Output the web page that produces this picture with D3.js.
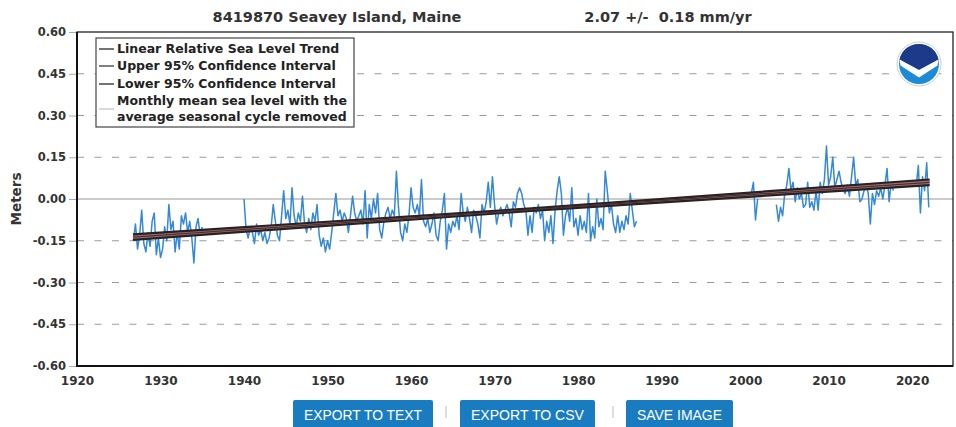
<!DOCTYPE html>
<html>
<head>
<meta charset="utf-8">
<script src="https://cdn.jsdelivr.net/npm/d3@7/dist/d3.min.js"></script>
<style>
  body { margin: 0; background: #fff; }
  svg text { font-family: "DejaVu Sans", sans-serif; }
</style>
</head>
<body>
<svg id="chart"></svg>
<script>
// chart text
const stationTitle = "8419870 Seavey Island, Maine";
const trendTitle = "2.07 +/-  0.18 mm/yr";
const yTicks = [-0.60, -0.45, -0.30, -0.15, 0.00, 0.15, 0.30, 0.45, 0.60];
const xTicks = [1920, 1930, 1940, 1950, 1960, 1970, 1980, 1990, 2000, 2010, 2020];
const legendLabels = [
  ["Linear Relative Sea Level Trend"],
  ["Upper 95% Confidence Interval"],
  ["Lower 95% Confidence Interval"],
  ["Monthly mean sea level with the", "average seasonal cycle removed"]
];
const buttonLabels = ["EXPORT TO TEXT", "EXPORT TO CSV", "SAVE IMAGE"];

// monthly mean sea level (one value per quarter year)
const stepYears = 0.25;
const seg1Start = 1926.75;
const seg1 = [-0.15,
  -0.09, -0.18, -0.13, -0.04,
  -0.16, -0.19, -0.12, -0.17,
  -0.08, -0.05, -0.20, -0.14,
  -0.21, -0.18, -0.10, -0.15,
  -0.02, -0.11, -0.08, -0.19,
  -0.12, -0.18, -0.06, -0.09,
  -0.05, -0.12, -0.08, -0.14,
  -0.23, -0.10, -0.07, -0.13,
  -0.10];
const seg2Start = 1940;
const seg2 = [
  0.00, -0.11, -0.14, -0.10,   // 1940
  -0.12, -0.16, -0.09, -0.13,
  -0.11, -0.15, -0.12, -0.16,
  -0.14, -0.10, -0.02, -0.08,
  -0.13, -0.15, -0.06, 0.03,
  -0.07, -0.04, -0.09, 0.04,   // 1945
  -0.06, -0.10, -0.05, -0.08,
  0.01, -0.09, -0.12, -0.07,
  -0.11, -0.05, -0.08, -0.02,
  -0.13, -0.17, -0.14, -0.19,
  -0.15, -0.18, -0.12, -0.05,  // 1950
  0.02, -0.06, -0.04, -0.08,
  -0.05, -0.07, -0.12, -0.06,
  0.01, -0.05, -0.08, -0.06,
  -0.04, -0.09, 0.03, -0.14,
  -0.02, -0.07, 0.00, -0.05,   // 1955
  0.02, -0.11, -0.14, -0.08,
  -0.05, -0.03, -0.07, -0.04,
  -0.06, 0.10, -0.03, -0.12,
  -0.15, -0.09, -0.12, -0.06,
  0.04, -0.03, -0.05, -0.02,   // 1960
  -0.06, 0.07, -0.08, -0.10,
  -0.07, -0.12, -0.09, -0.05,
  -0.13, -0.15, -0.08, -0.04,
  0.02, -0.18, -0.09, -0.12,
  -0.08, -0.10, -0.06, -0.11,  // 1965
  0.02, -0.05, -0.08, -0.03,
  -0.07, -0.12, -0.04, -0.06,
  -0.09, -0.14, -0.02, -0.05,
  -0.01, 0.06, -0.03, 0.08,
  -0.02, -0.09, -0.05, -0.03,  // 1970
  -0.06, -0.04, -0.02, -0.05,
  -0.10, -0.01, -0.03, 0.02,
  0.04, 0.02, -0.02, -0.04,
  -0.13, -0.06, -0.12, -0.03,
  -0.05, -0.02, -0.07, -0.04,  // 1975
  -0.15, -0.08, -0.12, -0.06,
  -0.16, -0.04, 0.03, 0.08,
  0.02, -0.13, -0.06, -0.03,
  -0.08, 0.04, -0.10, -0.07,
  -0.13, -0.06, -0.11, -0.08,  // 1980
  -0.12, 0.02, -0.15, -0.10,
  -0.14, 0.00, -0.10, -0.07,
  -0.11, 0.10, 0.03, -0.05,
  -0.02, -0.09, -0.12, -0.06,
  -0.12, -0.08, -0.11, -0.06,  // 1985
  -0.09, 0.02, -0.04, -0.10,
  -0.08];
const seg3Start = 2000.75;
const seg3 = [0.02,
  0.06, -0.075, 0.00, null,    // 2001
  null, null, null, null,
  null, null, null, -0.02,
  -0.08, -0.03, -0.06, 0.02,   // 2004
  0.05, 0.11, 0.03, 0.06,
  -0.01, 0.04, 0.00, 0.02,
  -0.03, -0.02, 0.06, -0.03,
  -0.01, -0.04, 0.03, -0.04,
  0.06, 0.02, 0.07, 0.19,      // 2009
  0.05, 0.08, 0.15, 0.04,
  0.07, 0.10, 0.06, 0.03,
  0.02, 0.05, 0.01, 0.08,
  0.15, 0.05, 0.07, -0.01,
  0.00, 0.03, 0.05, 0.02,      // 2014
  -0.09, 0.02, -0.02, 0.03,
  0.01, 0.04, 0.00, 0.05,
  0.11, -0.01, 0.06, 0.03,
  null, null, null, null,
  null, null, null, null,      // 2019
  null, null, 0.05, 0.12,
  -0.05, 0.08, 0.03, 0.13,
  -0.03];

// linear trend and 95% confidence interval
const trendYears = [1926.7, 1974.4, 2022.1];
const trendValues = [-0.137, -0.0385, 0.060];
const upperValues = [-0.127, -0.034, 0.070];
const lowerValues = [-0.147, -0.043, 0.050];

// set the dimensions and margins of the chart
const margin = { top: 32, right: 3, bottom: 61, left: 77 },
  width = 956 - margin.left - margin.right,
  height = 427 - margin.top - margin.bottom;

const svg = d3.select("#chart")
  .attr("width", 956)
  .attr("height", 427);

const g = svg.append("g")
  .attr("transform", "translate(" + margin.left + "," + margin.top + ")");

const x = d3.scaleLinear().domain([1920, 2024.9]).range([0, width]);
const y = d3.scaleLinear().domain([-0.6, 0.6]).range([height, 0]);

// titles
svg.append("text")
  .attr("x", 337).attr("y", 22)
  .attr("text-anchor", "middle")
  .attr("font-size", 14.5).attr("font-weight", "bold")
  .attr("fill", "#333")
  .text(stationTitle);
svg.append("text")
  .attr("x", 668).attr("y", 22)
  .attr("text-anchor", "middle")
  .attr("font-size", 14.5).attr("font-weight", "bold")
  .attr("fill", "#333")
  .style("white-space", "pre")
  .text(trendTitle);

// y axis with ticks and labels
const yAxis = g.append("g")
  .call(d3.axisLeft(y).tickValues(yTicks).tickSize(8).tickPadding(3)
    .tickFormat(d => d.toFixed(2)));
yAxis.select(".domain").remove();
yAxis.selectAll("line").attr("stroke", "#aaa");
yAxis.selectAll("text")
  .attr("font-size", 11.5).attr("font-weight", "bold")
  .attr("fill", "#333")
  .style("font-family", "DejaVu Sans, sans-serif");

// x axis
const xAxis = g.append("g")
  .attr("transform", "translate(0," + height + ")")
  .call(d3.axisBottom(x).tickValues(xTicks).tickSize(0).tickPadding(10)
    .tickFormat(d3.format("d")));
xAxis.select(".domain").remove();
xAxis.selectAll("text")
  .attr("font-size", 12).attr("font-weight", "bold")
  .attr("fill", "#333")
  .style("font-family", "DejaVu Sans, sans-serif");

svg.append("text")
  .attr("transform", "translate(21," + (margin.top + y(0)) + ") rotate(-90)")
  .attr("text-anchor", "middle")
  .attr("font-size", 13.5).attr("font-weight", "bold")
  .attr("fill", "#333")
  .text("Meters");

// dashed grid lines, solid zero line
g.selectAll(".grid")
  .data(yTicks.filter(d => Math.abs(d) > 0.001 && Math.abs(d) < 0.59))
  .enter().append("line")
  .attr("class", "grid")
  .attr("x1", 0).attr("x2", width)
  .attr("y1", d => y(d)).attr("y2", d => y(d))
  .attr("stroke", "#9a9a9a")
  .attr("stroke-width", 1.2)
  .attr("stroke-dasharray", "7,10.5");
g.append("line")
  .attr("x1", 0).attr("x2", width)
  .attr("y1", y(0)).attr("y2", y(0))
  .attr("stroke", "#999")
  .attr("stroke-width", 1.2);

// monthly data
function toPoints(start, values) {
  return values.map((v, i) => ({ year: start + i * stepYears, value: v }));
}
const monthly = [toPoints(seg1Start, seg1), toPoints(seg2Start, seg2), toPoints(seg3Start, seg3)];

const line = d3.line()
  .defined(d => d.value !== null)
  .x(d => x(d.year))
  .y(d => y(d.value));

g.selectAll(".monthly")
  .data(monthly)
  .enter().append("path")
  .attr("class", "monthly")
  .attr("d", line)
  .attr("fill", "none")
  .attr("stroke", "#3588d4")
  .attr("stroke-width", 1.5)
  .attr("stroke-linejoin", "round");

// trend band
const trend = trendYears.map((t, i) => ({ year: t, value: trendValues[i], up: upperValues[i], lo: lowerValues[i] }));
g.append("path")
  .datum(trend)
  .attr("d", d3.area().x(d => x(d.year)).y0(d => y(d.lo)).y1(d => y(d.up)))
  .attr("fill", "#a86f6f");
g.append("path")
  .datum(trend)
  .attr("d", d3.line().x(d => x(d.year)).y(d => y(d.up)))
  .attr("fill", "none").attr("stroke", "#2a2222").attr("stroke-width", 2.2);
g.append("path")
  .datum(trend)
  .attr("d", d3.line().x(d => x(d.year)).y(d => y(d.lo)))
  .attr("fill", "none").attr("stroke", "#2a2222").attr("stroke-width", 2.2);
g.append("path")
  .datum(trend)
  .attr("d", line)
  .attr("fill", "none").attr("stroke", "#4a3232").attr("stroke-width", 1.2);

// plot frame
g.append("rect")
  .attr("width", width).attr("height", height)
  .attr("fill", "none").attr("stroke", "#222").attr("stroke-width", 1.3);
g.append("path")
  .attr("d", "M0,0V" + height + "H" + width)
  .attr("fill", "none").attr("stroke", "#111").attr("stroke-width", 2);

// legend
const legend = svg.append("g").attr("transform", "translate(96,38)");
legend.append("rect")
  .attr("width", 258).attr("height", 89)
  .attr("fill", "#fff").attr("stroke", "#444").attr("stroke-width", 1.2);
const legendColors = ["#444", "#555", "#444", "#c8ccd4"];
const legendRowY = [15, 32, 50, 67];
legendLabels.forEach((lines, i) => {
  const lineY = lines.length > 1 ? legendRowY[i] + 4 : legendRowY[i] - 4;
  legend.append("line")
    .attr("x1", 3).attr("x2", 18)
    .attr("y1", lineY).attr("y2", lineY)
    .attr("stroke", legendColors[i]).attr("stroke-width", 1.5);
  lines.forEach((t, j) => {
    legend.append("text")
      .attr("x", 21).attr("y", legendRowY[i] + j * 16)
      .attr("font-size", 12.5).attr("font-weight", "bold")
      .attr("fill", "#222")
      .text(t);
  });
});

// NOAA logo
const logo = svg.append("g").attr("transform", "translate(919,64)");
logo.append("circle").attr("r", 22).attr("fill", "#fff").attr("stroke", "#ccc");
logo.append("circle").attr("r", 20).attr("fill", "#1c8ad6");
logo.append("path")
  .attr("d", "M-19.5,-4.5A20,20 0 0 1 19.5,-4.5L0,6Z")
  .attr("fill", "#1d3a8a");
logo.append("path")
  .attr("d", "M-19.5,-4.5L0,6L19.5,-4.5L18.5,1.5L0,13.5L-18.5,1.5Z")
  .attr("fill", "#fff");

// buttons under the chart
const buttonX = [293, 460, 626];
const buttonW = [140, 135, 107];
buttonLabels.forEach((label, i) => {
  svg.append("rect")
    .attr("x", buttonX[i]).attr("y", 400)
    .attr("width", buttonW[i]).attr("height", 32)
    .attr("rx", 2)
    .attr("fill", "#1a7cc0");
  svg.append("text")
    .attr("x", buttonX[i] + buttonW[i] / 2).attr("y", 420)
    .attr("text-anchor", "middle")
    .attr("font-size", 14)
    .attr("fill", "#fff")
    .attr("textLength", buttonW[i] - 22)
    .attr("lengthAdjust", "spacingAndGlyphs")
    .style("font-family", "Liberation Sans Narrow, Liberation Sans, sans-serif")
    .text(label);
});
[446, 613].forEach(sx => {
  svg.append("line")
    .attr("x1", sx).attr("x2", sx).attr("y1", 406).attr("y2", 418)
    .attr("stroke", "#bbb").attr("stroke-width", 1);
});
</script>
</body>
</html>
